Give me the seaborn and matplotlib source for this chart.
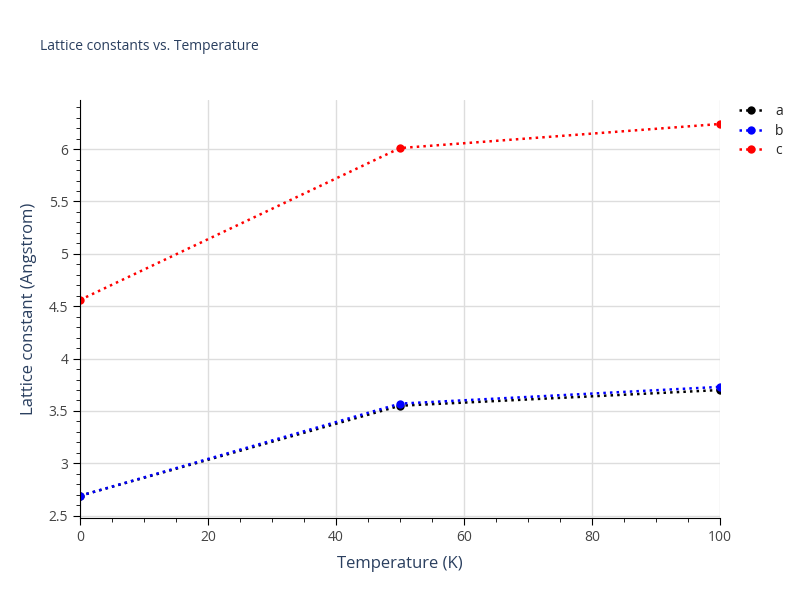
import matplotlib
matplotlib.use("Agg")
import matplotlib.pyplot as plt
import seaborn as sns
import pandas as pd
from matplotlib.ticker import MultipleLocator

temps = [0, 50, 100]
a_vals = [2.69, 3.55, 3.70]
b_vals = [2.69, 3.57, 3.73]
c_vals = [4.56, 6.01, 6.24]
series = ["a", "b", "c"]
colors = {"a": "black", "b": "blue", "c": "red"}

df = pd.DataFrame({
    "T": temps * 3,
    "v": a_vals + b_vals + c_vals,
    "s": ["a"] * 3 + ["b"] * 3 + ["c"] * 3,
})

sns.set_style("white")
plt.rcParams['font.family'] = ['Open Sans', 'DejaVu Sans']
fig = plt.figure(figsize=(8, 6), dpi=100)
ax = fig.add_axes([0.1, 0.137, 0.8, 0.696])
sns.lineplot(data=df, x="T", y="v", hue="s", palette=colors, marker="o",
             markersize=6, markeredgewidth=0, linestyle=":", linewidth=1.8, ax=ax)
for l in ax.lines:
    l.set_linestyle(":")
ax.set_xlim(0, 100)
ax.set_ylim(2.48, 6.467)
ax.xaxis.set_major_locator(MultipleLocator(20))
ax.xaxis.set_minor_locator(MultipleLocator(5))
ax.yaxis.set_minor_locator(MultipleLocator(0.1))
ax.set_yticks([2.5, 3, 3.5, 4, 4.5, 5, 5.5, 6])
ax.set_yticklabels(["2.5", "3", "3.5", "4", "4.5", "5", "5.5", "6"])
ax.grid(True, which="major", color="#dddddd", linewidth=1)
for s in ["top", "right"]:
    ax.spines[s].set_visible(False)
for s in ["left", "bottom"]:
    ax.spines[s].set_color("black")
ax.tick_params(which="both", direction="out", colors="#444", labelsize=10, left=True, bottom=True)
ax.tick_params(which="major", length=5, color="black")
ax.tick_params(which="minor", length=3, color="black")
ax.set_xlabel("Temperature (K)", fontsize=12, color="#2a3f5f", labelpad=8)
ax.set_ylabel("Lattice constant (Angstrom)", fontsize=12, color="#2a3f5f", labelpad=8)
leg = ax.legend(loc="upper left", bbox_to_anchor=(1.01, 1.02), frameon=False, fontsize=10,
                handlelength=1.8, labelspacing=0.3)
fig.text(0.05, 0.917, "Lattice constants vs. Temperature", fontsize=10, color="#2a3f5f")
fig.savefig("out.png", dpi=100)
